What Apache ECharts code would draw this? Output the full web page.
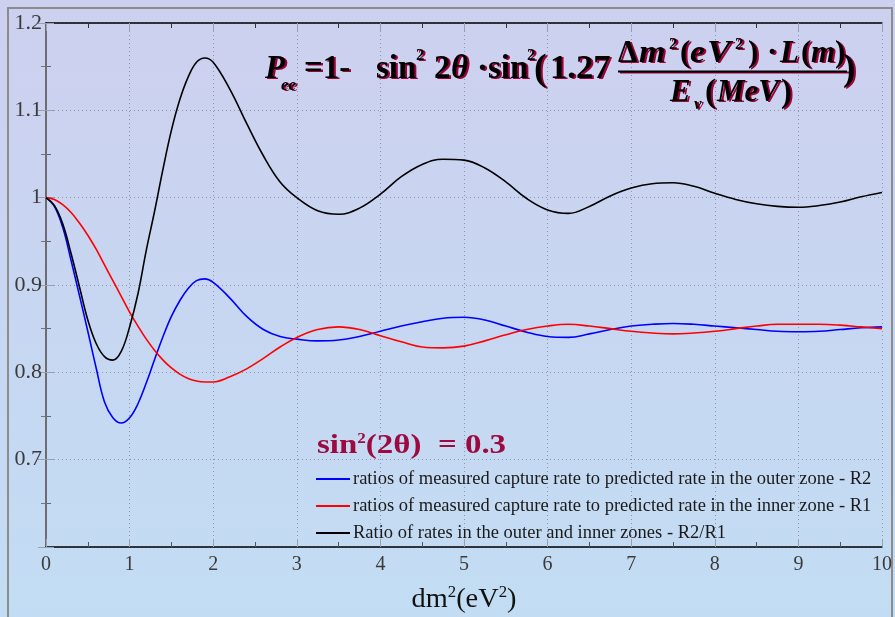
<!DOCTYPE html>
<html><head><meta charset="utf-8">
<script src="https://cdn.jsdelivr.net/npm/echarts@6/dist/echarts.min.js"></script>
<style>html,body{margin:0;padding:0;background:#c8d6f0}#c{width:895px;height:617px}</style>
</head><body><div id="c"></div>
<script>
const xValues = [0,0.1,0.2,0.3,0.4,0.5,0.6,0.7,0.8,0.9,1.0,1.1,1.2,1.3,1.4,1.5,1.6,1.7,1.8,1.9,2.0,2.2,2.4,2.6,2.8,3.0,3.25,3.5,3.75,4.0,4.25,4.5,4.75,5.0,5.25,5.5,5.75,6.0,6.25,6.5,6.75,7.0,7.25,7.5,7.75,8.0,8.25,8.5,8.75,9.0,9.25,9.5,9.75,10];
const outerR2 = [1.000,0.990,0.966,0.928,0.888,0.847,0.805,0.766,0.748,0.742,0.748,0.764,0.788,0.815,0.841,0.864,0.882,0.896,0.905,0.907,0.903,0.885,0.864,0.849,0.841,0.838,0.836,0.837,0.841,0.847,0.853,0.858,0.862,0.863,0.860,0.853,0.846,0.841,0.840,0.844,0.849,0.853,0.855,0.856,0.855,0.853,0.851,0.849,0.847,0.8465,0.847,0.849,0.851,0.852];
const innerR1 = [1.000,0.998,0.992,0.983,0.971,0.957,0.941,0.923,0.905,0.887,0.869,0.853,0.838,0.825,0.814,0.805,0.798,0.793,0.790,0.789,0.789,0.795,0.804,0.816,0.829,0.840,0.849,0.852,0.849,0.842,0.835,0.829,0.828,0.830,0.836,0.843,0.849,0.853,0.855,0.853,0.850,0.847,0.845,0.844,0.845,0.847,0.850,0.853,0.855,0.855,0.855,0.854,0.852,0.850];
const ratioR2R1 = [1.000,0.991,0.970,0.936,0.898,0.860,0.833,0.818,0.814,0.824,0.852,0.890,0.940,0.985,1.033,1.077,1.112,1.138,1.155,1.160,1.155,1.124,1.085,1.048,1.018,1.000,0.985,0.981,0.988,1.004,1.024,1.038,1.044,1.043,1.034,1.018,0.999,0.986,0.982,0.990,1.002,1.011,1.016,1.017,1.013,1.005,0.998,0.993,0.990,0.989,0.991,0.995,1.001,1.006];
const seriesNames = [
  'ratios of measured capture rate to predicted rate in the outer zone - R2',
  'ratios of measured capture rate to predicted rate in the inner zone - R1',
  'Ratio of rates in the outer and inner zones - R2/R1'
];
const xTicks = [0,1,2,3,4,5,6,7,8,9,10];
const yTicks = [0.7,0.8,0.9,1.0,1.1,1.2];

const F = '"Liberation Serif","Times New Roman",serif';
const chart = echarts.init(document.getElementById('c'));

function pts(arr){ return xValues.map((x,i)=>[x, arr[i]]); }

const graphics = [];
function t(x, y, text, size, italic, sx){
  const font = (italic ? 'italic ' : '') + 'bold ' + size + 'px ' + F;
  const s = sx || 1;
  graphics.push({type:'text', x: x + 2, y: y + 1, scaleX: s, z: 99, silent:true,
    style:{text, font, fill:'#a0003c', align:'left', verticalAlign:'middle'}});
  graphics.push({type:'text', x, y, scaleX: s, z: 100, silent:true,
    style:{text, font, fill:'#000', align:'left', verticalAlign:'middle'}});
}
// main line
const MY = 69;
t(265, MY, 'P', 33, true);
t(281, 86, 'ee', 17, true);
t(304, MY, '=1-', 33, false);
t(376, MY, 'sin', 33, false);
t(416, 56, '2', 17, false);
t(434, MY, '2', 33, false);
t(451, MY, 'θ', 33, true);
t(477, MY, '·sin', 33, false);
t(527, 56, '2', 17, false);
t(534, MY+1, '(', 38, false);
t(550, MY, '1.27', 33, false, 1.05);
t(843, MY+1, ')', 38, false);
// numerator
const NY = 54;
t(618, NY, 'Δ', 31, false);
t(639, NY, 'm', 31, true, 1.1);
t(669, 45, '2', 17, false);
t(680, NY, '(', 31, false);
t(690, NY, 'e', 31, true, 1.1);
t(707, NY, 'V', 31, true, 1.15);
t(735, 45, '2', 17, false);
t(748, NY, ')', 31, false);
t(767, NY, '·', 31, false);
t(780, NY, 'L', 31, true);
t(801, NY, '(', 31, false);
t(811, NY, 'm', 31, true);
t(835, NY, ')', 31, false);
// fraction bar
graphics.push({type:'line', z:99, silent:true, shape:{x1:620,y1:72.5,x2:849,y2:72.5}, style:{stroke:'#a0003c', lineWidth:2}});
graphics.push({type:'line', z:100, silent:true, shape:{x1:618,y1:71.5,x2:847,y2:71.5}, style:{stroke:'#000', lineWidth:2}});
// denominator
const DY = 93;
t(670, DY, 'E', 31, true);
t(694, 105, 'ν', 17, true);
t(705, DY, '(', 33, false);
t(717, DY, 'MeV', 31, true);
t(781, DY, ')', 33, false);

// sin^2(2θ) = 0.3
graphics.push({type:'text', x:317, y:446, scaleX:1.22, z:100, silent:true, style:{
  rich:{a:{fontFamily:F, fontWeight:'bold', fontSize:27, fill:'#9c0a40', lineHeight:28},
        s:{fontFamily:F, fontWeight:'bold', fontSize:14, fill:'#9c0a40', verticalAlign:'top', lineHeight:28, padding:[0,0,10,0]}},
  text:'{a|sin}{s|2}{a|(2θ)  = 0.3}', verticalAlign:'middle', align:'left'}});

// x axis name
graphics.push({type:'text', x:464, y:600, scaleX:1.05, z:100, silent:true, style:{
  rich:{a:{fontFamily:F, fontSize:27, fill:'#111', lineHeight:30},
        s:{fontFamily:F, fontSize:16, fill:'#111', verticalAlign:'top', lineHeight:30, padding:[0,0,12,0]}},
  text:'{a|dm}{s|2}{a|(eV}{s|2}{a|)}', align:'center', verticalAlign:'middle'}});

// outer frame
graphics.push({type:'rect', z:0, silent:true, shape:{x:8,y:8,width:884,height:640}, style:{fill:'none', stroke:'#8c8c8c', lineWidth:2}});

const gridLine = {show:true, lineStyle:{color:'#8e96a8', type:[1,3], width:1}};

chart.setOption({
  animation:false,
  backgroundColor:{type:'linear', x:0, y:0, x2:0, y2:1, colorStops:[{offset:0,color:'#cdd0ef'},{offset:1,color:'#c2ddf3'}]},
  grid:{left:46, right:11, top:23, bottom:70, containLabel:false},
  graphic: graphics,
  legend:{orient:'vertical', left:316, top:469, padding:0, itemWidth:34, itemHeight:2, itemGap:7, icon:'rect',
    textStyle:{fontFamily:F, fontSize:18.5, color:'#1a1a1a', lineHeight:20, padding:[0,0,0,-2]},
    data: seriesNames},
  xAxis:[{type:'value', min:0, max:10, interval:1, position:'bottom',
      axisLine:{show:true, lineStyle:{color:'#000', width:1.5}},
      axisTick:{show:true, inside:true, length:8, lineStyle:{color:'#9aa0ac'}},
      minorTick:{show:true, splitNumber:2, length:5, lineStyle:{color:'#555'}},
      axisLabel:{show:true, margin:8, fontFamily:F, fontSize:20, color:'#3a3a3a',
        formatter:(v)=> xTicks.includes(v) ? String(v) : ''},
      splitLine: gridLine},
    {type:'value', min:0, max:10, interval:1, position:'top',
      axisLine:{show:true, lineStyle:{color:'#000', width:1.5}},
      axisTick:{show:true, inside:true, length:8, lineStyle:{color:'#9aa0ac'}},
      minorTick:{show:true, splitNumber:2, length:5, lineStyle:{color:'#333'}},
      axisLabel:{show:false}, splitLine:{show:false}}],
  yAxis:[{type:'value', min:0.6, max:1.2, interval:0.1, position:'left',
      axisLine:{show:true, lineStyle:{color:'#000', width:1.5}},
      axisTick:{show:true, inside:true, length:8, lineStyle:{color:'#9aa0ac'}},
      minorTick:{show:true, splitNumber:2, length:5, lineStyle:{color:'#666'}},
      axisLabel:{show:true, margin:4, fontFamily:F, fontSize:22, color:'#3a3a3a', showMinLabel:false,
        formatter:(v)=>{ const r = Math.round(v*10)/10; return yTicks.some(y=>Math.abs(y-r)<1e-9) ? String(r) : ''; }},
      splitLine: gridLine},
    {type:'value', min:0.6, max:1.2, interval:0.1, position:'right',
      axisLine:{show:true, lineStyle:{color:'#6d6d6d', width:2}},
      axisTick:{show:true, inside:true, length:8, lineStyle:{color:'#9aa0ac'}},
      minorTick:{show:true, splitNumber:2, length:5, lineStyle:{color:'#777'}},
      axisLabel:{show:false}, splitLine:{show:false}}],
  series:[
    {name:seriesNames[0], type:'line', data:pts(outerR2), smooth:0.4, symbol:'none', lineStyle:{color:'#0000ff', width:1.6}, itemStyle:{color:'#0000ff'}},
    {name:seriesNames[1], type:'line', data:pts(innerR1), smooth:0.4, symbol:'none', lineStyle:{color:'#ff0000', width:1.6}, itemStyle:{color:'#ff0000'}},
    {name:seriesNames[2], type:'line', data:pts(ratioR2R1), smooth:0.4, symbol:'none', lineStyle:{color:'#000000', width:1.6}, itemStyle:{color:'#000000'}}
  ]
});
</script></body></html>
